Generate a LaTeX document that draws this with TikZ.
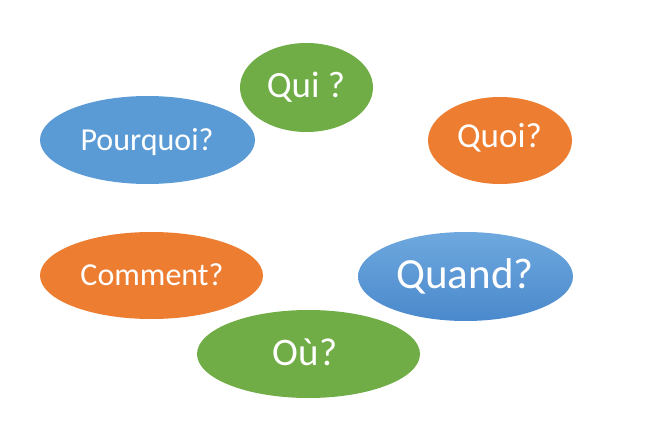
\documentclass[tikz,border=0pt]{standalone}
\usepackage{fontspec}
\setmainfont{Carlito}
\usetikzlibrary{shapes.geometric}
\definecolor{cblue}{HTML}{5B9BD5}
\definecolor{corange}{HTML}{ED7D31}
\definecolor{cgreen}{HTML}{70AD47}
\definecolor{qtop}{HTML}{6EA8DE}
\definecolor{qbot}{HTML}{4A89CC}
\tikzset{
  blob/.style={ellipse, draw=none, inner sep=0pt, minimum width=#1},
  lbl/.style={anchor=base, text=white, inner sep=0pt}
}
\begin{document}
\begin{tikzpicture}[x=1pt,y=-1pt]
\useasboundingbox (0,0) rectangle (657,444);
% ellipses
\node[blob=133pt, minimum height=89pt, fill=cgreen] (qui) at (306.5,87.5) {};
\node[blob=215pt, minimum height=88pt, fill=cblue] (pourquoi) at (147.5,140) {};
\node[blob=144pt, minimum height=87pt, fill=corange] (quoi) at (500,140.5) {};
\node[blob=223pt, minimum height=87pt, fill=corange] (comment) at (151.5,275.5) {};
\node[blob=215pt, minimum height=89pt, top color=qtop, bottom color=qbot] (quand) at (465.5,276.5) {};
\node[blob=223pt, minimum height=88pt, fill=cgreen] (ou) at (308.5,354) {};
% labels
\node[lbl, font=\fontsize{37}{40}\selectfont] (quiT) at (306,98) {Qui ?};
\node[lbl, font=\fontsize{32}{36}\selectfont] (pourquoiT) at (147,150) {Pourquoi?};
\node[lbl, font=\fontsize{35}{38}\selectfont] (quoiT) at (499.5,148) {Quoi?};
\node[lbl, font=\fontsize{32}{36}\selectfont] (commentT) at (152,285) {Comment?};
\node[lbl, font=\fontsize{43}{46}\selectfont] (quandT) at (465,288) {Quand?};
\node[lbl, font=\fontsize{39}{42}\selectfont] (ouT) at (305,365) {Où?};
\end{tikzpicture}
\end{document}
